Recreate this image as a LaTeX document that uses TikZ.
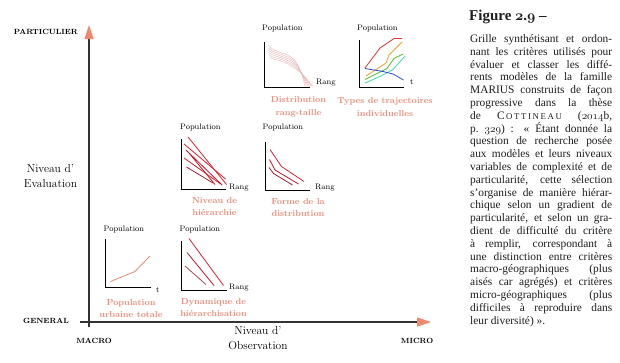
\documentclass[tikz,border=0pt]{standalone}
\usepackage{fontspec}
\newfontfamily\capfont{Liberation Serif}
\usetikzlibrary{arrows.meta}
\definecolor{salmon}{RGB}{243,134,108}
\definecolor{lblsalmon}{RGB}{240,138,118}
\definecolor{rdA}{RGB}{228,30,42}
\definecolor{rdB}{RGB}{200,20,35}
\definecolor{rdC}{RGB}{170,30,45}
\definecolor{rdD}{RGB}{180,70,75}
\definecolor{pinkc}{RGB}{236,180,180}
\definecolor{trRed}{RGB}{236,50,50}
\definecolor{trOrange}{RGB}{246,160,40}
\definecolor{trGreen}{RGB}{80,190,50}
\definecolor{trCyan}{RGB}{60,222,180}
\definecolor{trBlue}{RGB}{40,70,220}
\definecolor{capgray}{RGB}{30,30,30}
\newcommand{\spacedcaps}[1]{{\fontsize{8.8}{8.8}\selectfont #1}}
\newcommand{\osnum}[1]{{\usefont{OML}{cmm}{m}{it}#1}}
\newcommand{\osnumb}[1]{{\usefont{OML}{cmm}{b}{it}#1}}
\begin{document}
\begin{tikzpicture}[x=1pt,y=-1pt,
  mainaxis/.style={draw=black!80,line width=1.2pt},
  salmontip/.style={-{Triangle[length=14pt,width=9pt,color=salmon]}},
  chartaxis/.style={draw=black,line width=0.9pt},
  poplbl/.style={font=\fontsize{8}{8}\selectfont,inner sep=0},
  critlbl/.style={font=\fontsize{8.7}{12.6}\selectfont\bfseries,text=lblsalmon,align=center,inner sep=0},
  extreme/.style={font=\fontsize{7.5}{7.5}\selectfont\bfseries,inner sep=0},
  axistitle/.style={font=\fontsize{11.5}{15}\selectfont,align=center,inner sep=0},
  dataline/.style={line width=0.8pt}]
\useasboundingbox[fill=white] (0,0) rectangle (620,362);

% ---------- main axes ----------
\coordinate (vbot) at (89,327);
\coordinate (vtop) at (89,25);
\coordinate (hleft) at (80,322);
\coordinate (hright) at (431,322);
\draw[mainaxis,salmontip] (vbot) -- (vtop);
\draw[mainaxis,salmontip] (hleft) -- (hright);

\node[extreme,anchor=east] (part) at (78,32) {PARTICULIER};
\node[extreme,anchor=east] (gen) at (69,321) {GENERAL};
\node[extreme] (macro) at (94,341) {MACRO};
\node[extreme] (micro) at (417,341) {MICRO};
\node[axistitle] (evaltitle) at (50.5,176.5) {Niveau d'\\Evaluation};
\node[axistitle] (obstitle) at (258,338.5) {Niveau d'\\Observation};

% ---------- chart 1 : distribution rang-taille ----------
\coordinate (c1t) at (264,42);
\coordinate (c1o) at (264,87);
\coordinate (c1r) at (310,87);
\draw[chartaxis] (c1t) -- (c1o) -- (c1r);
\node[poplbl,anchor=west] (c1p) at (262,28) {Population};
\node[poplbl,anchor=west] (c1x) at (316,83) {Rang};
\foreach \i in {0,...,5}{
  \draw[pinkc,line width=0.4pt]
    (268+0.3*\i,45.5+2.4*\i) .. controls (274,52+1.6*\i) and (284,52.5+1.6*\i) .. (291,57+1.8*\i)
    .. controls (298,62+1.6*\i) and (302,73) .. (305+1.6*\i,86.5);
}
\node[critlbl] (c1l) at (298.5,107) {Distribution\\rang-taille};

% ---------- chart 2 : trajectoires ----------
\coordinate (c2t) at (359,40);
\coordinate (c2o) at (359,87);
\coordinate (c2r) at (404,87);
\draw[chartaxis] (c2t) -- (c2o) -- (c2r);
\node[poplbl,anchor=west] (c2p) at (357,28) {Population};
\node[poplbl,anchor=west] (c2x) at (410,82) {t};
\draw[trRed,dataline] (365,68) -- (380,48) -- (394,38.5) -- (402,38.5);
\draw[trOrange,dataline] (366,76) -- (386,63) -- (389,55) -- (402,42);
\draw[trGreen,dataline] (365,79.5) -- (387,68.5) -- (394,58.5) -- (403,54);
\draw[trCyan,dataline] (365,83) -- (380,76.5) -- (393,69.5) -- (405,56);
\draw[trBlue,dataline] (365,68.5) -- (383,71.5) -- (393,74) -- (403.5,80);
\node[critlbl] (c2l) at (385,107) {Types de trajectoires\\individuelles};

% ---------- chart 3 : niveau de hierarchie ----------
\coordinate (c3t) at (181,139);
\coordinate (c3o) at (181,189);
\coordinate (c3r) at (226,189);
\draw[chartaxis] (c3t) -- (c3o) -- (c3r);
\node[poplbl,anchor=west] (c3p) at (180,127) {Population};
\node[poplbl,anchor=west] (c3x) at (229,188) {Rang};
\draw[rdA,dataline] (188,137) -- (226.5,184.5);
\draw[rdA,dataline] (184,144) -- (225.5,179);
\draw[rdB,dataline] (189,153) -- (215,184.5);
\draw[rdA,dataline] (184,158) -- (220,183.5);
\draw[rdC,dataline] (186.5,167) -- (213,183);
\draw[rdB,dataline] (186,150) -- (222,185);
\node[critlbl] (c3l) at (214.5,206.5) {Niveau de\\hiérarchie};

% ---------- chart 4 : forme de la distribution ----------
\coordinate (c4t) at (265,142);
\coordinate (c4o) at (265,190);
\coordinate (c4r) at (310,190);
\draw[chartaxis] (c4t) -- (c4o) -- (c4r);
\node[poplbl,anchor=west] (c4p) at (262.5,127) {Population};
\node[poplbl,anchor=west] (c4x) at (315,188) {Rang};
\draw[rdA,dataline] (270,149.5) -- (281.5,166.5) -- (304,181.5);
\draw[rdB,dataline] (269.5,159.5) -- (275,170) -- (298.5,184);
\draw[rdC,dataline] (269,167.5) -- (273.5,173.5) -- (292.5,185);
\node[critlbl] (c4l) at (298,207.5) {Forme de la\\distribution};

% ---------- chart 5 : population urbaine totale ----------
\coordinate (c5t) at (105,239);
\coordinate (c5o) at (105,287.5);
\coordinate (c5r) at (151,287.5);
\draw[chartaxis] (c5t) -- (c5o) -- (c5r);
\node[poplbl,anchor=west] (c5p) at (103.5,229.5) {Population};
\node[poplbl,anchor=west] (c5x) at (156,290) {t};
\draw[salmon,dataline] (110.5,281.5) -- (135,271.5) -- (150,256);
\node[critlbl] (c5l) at (131,308.5) {Population\\urbaine totale};

% ---------- chart 6 : dynamique de hierarchisation ----------
\coordinate (c6t) at (181,241);
\coordinate (c6o) at (181,290);
\coordinate (c6r) at (227,290);
\draw[chartaxis] (c6t) -- (c6o) -- (c6r);
\node[poplbl,anchor=west] (c6p) at (179.5,229.5) {Population};
\node[poplbl,anchor=west] (c6x) at (229,288) {Rang};
\draw[rdA,dataline] (189,238.5) -- (223.5,285.5);
\draw[rdB,dataline] (187,252.5) -- (214,285.5);
\draw[rdD,dataline] (185,266) -- (206,284.5);
\node[critlbl] (c6l) at (213.5,307.5) {Dynamique de\\hiérarchisation};

% ---------- caption ----------
\node[anchor=west,inner sep=0,font=\capfont\fontsize{15}{15}\selectfont\bfseries,text=capgray] (figtitle) at (469,17) {Figure \osnumb{2}.\osnumb{9} –};
\node[anchor=base west,inner sep=0,text=capgray] (caption) at (470,42.5) {\parbox[t]{142pt}{\capfont\fontsize{11.4}{12.8}\selectfont\pretolerance=10000\hyphenpenalty=10000\parindent=0pt
Grille synthétisant et ordon-\linebreak nant les critères utilisés pour\linebreak évaluer et classer les diffé-\linebreak rents modèles de la famille\linebreak MARIUS construits de façon\linebreak progressive dans la thèse\linebreak de C\spacedcaps{\kern1.6pt O\kern1.6pt T\kern1.6pt T\kern1.6pt I\kern1.6pt N\kern1.6pt E\kern1.6pt A\kern1.6pt U} (\osnum{2014}b,\linebreak p.~\osnum{329}) : « Étant donnée la\linebreak question de recherche posée\linebreak aux modèles et leurs niveaux\linebreak variables de complexité et de\linebreak particularité, cette sélection\linebreak s’organise de manière hiérar-\linebreak chique selon un gradient de\linebreak particularité, et selon un gra-\linebreak dient de difficulté du critère\linebreak à remplir, correspondant à\linebreak une distinction entre critères\linebreak macro-géographiques (plus\linebreak aisés car agrégés) et critères\linebreak micro-géographiques (plus\linebreak difficiles à reproduire dans\linebreak leur diversité) ».}};
\end{tikzpicture}
\end{document}
